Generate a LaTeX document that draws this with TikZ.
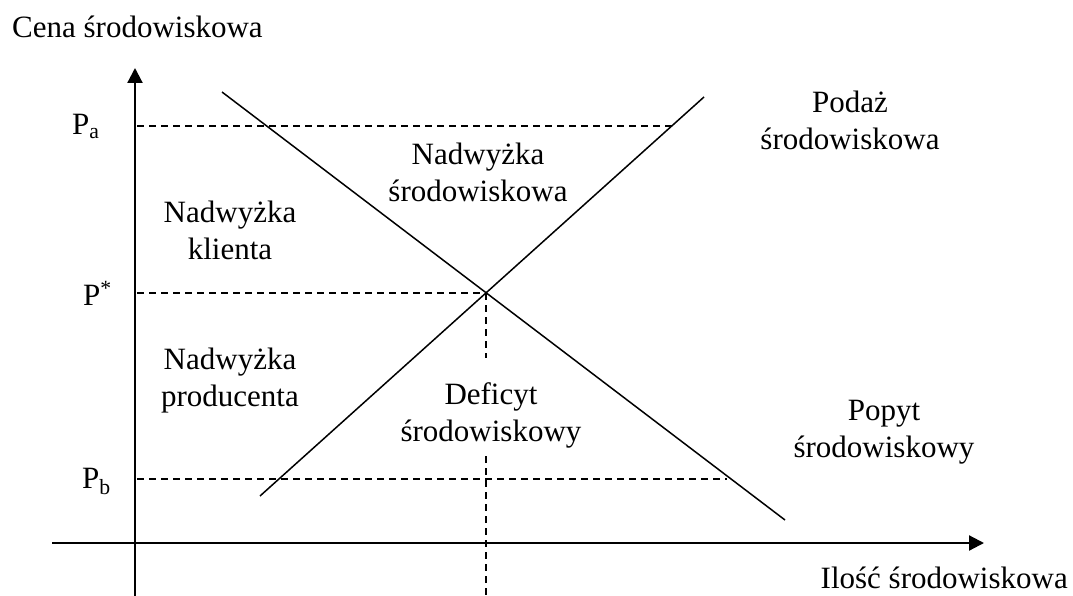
\documentclass[tikz,border=0pt]{standalone}
\usepackage{fontspec}
\setmainfont{Liberation Serif}
\usetikzlibrary{arrows.meta}
\begin{document}
\begin{tikzpicture}[x=1pt,y=-1pt,
  axis/.style={line width=2.2pt,-{Triangle[length=15pt,width=15pt]}},
  curve/.style={line width=1.5pt},
  guide/.style={line width=1.3pt,dash pattern=on 7pt off 5pt},
  lbl/.style={font=\fontsize{31}{37}\selectfont,inner sep=0pt,align=center},
  price/.style={font=\fontsize{31}{37}\selectfont,inner sep=0pt,anchor=base west}]
\useasboundingbox (0,0) rectangle (1073,596);

% axes
\coordinate (yb) at (135,596);
\coordinate (yt) at (135,68);
\coordinate (xl) at (52,543);
\coordinate (xr) at (984,543);
\draw[axis] (yb) -- (yt);
\draw[axis] (xl) -- (xr);

% supply and demand
\coordinate (s0) at (260,496);
\coordinate (s1) at (704,97);
\coordinate (d0) at (222,92);
\coordinate (d1) at (785,520);
\coordinate (eq) at (486,293);
\draw[curve] (s0) -- (s1);
\draw[curve] (d0) -- (d1);

% price guides
\coordinate (pa0) at (137,126);
\coordinate (pa1) at (672,126);
\coordinate (ps0) at (137,293);
\coordinate (pb0) at (137,479);
\coordinate (pb1) at (727,479);
\draw[guide] (pa0) -- (pa1);
\draw[guide] (ps0) -- (eq);
\draw[guide] (pb0) -- (pb1);

% equilibrium quantity guide, interrupted by the deficit label
\coordinate (q1) at (486,358);
\coordinate (q2) at (486,456);
\coordinate (q0) at (486,596);
\draw[guide] (eq) -- (q1);
\draw[guide] (q2) -- (q0);

% axis titles
\node[price] (ytitle) at (12,38) {Cena środowiskowa};
\node[lbl,anchor=base east] (xtitle) at (1068,588) {Ilość środowiskowa};

% price labels
\node[price] (pa) at (72,135) {P\textsubscript{a}};
\node[price] (pst) at (83,305) {P\textsuperscript{*}};
\node[price] (pb) at (82,488) {P\textsubscript{b}};

% area and curve labels
\node[lbl] (ns) at (478,172) {Nadwyżka\\środowiskowa};
\node[lbl] (nk) at (230,230) {Nadwyżka\\klienta};
\node[lbl] (np) at (230,381) {Nadwyżka\\producenta};
\node[lbl] (df) at (491,415) {Deficyt\\środowiskowy};
\node[lbl] (pd) at (850,120) {Podaż\\środowiskowa};
\node[lbl] (pp) at (884,432) {Popyt\\środowiskowy};
\end{tikzpicture}
\end{document}
